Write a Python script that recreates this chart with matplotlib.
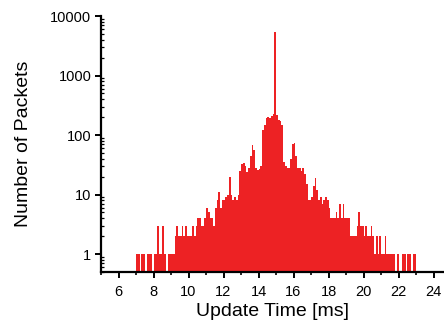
import numpy as np
import matplotlib
matplotlib.use("Agg")
import matplotlib.pyplot as plt
from matplotlib.ticker import LogLocator, NullFormatter, MultipleLocator

plt.rcParams['font.family'] = ['Liberation Sans', 'DejaVu Sans']

# histogram: bin edges start at 7.0 ms, width 0.1 ms
bin_start = 7.0
bin_width = 0.1
counts = [
    1, 1, 0, 1, 1, 0, 1, 1, 1, 0,        # 7.0 - 8.0
    1, 1, 3, 1, 1, 3, 1, 0, 1, 1,        # 8.0 - 9.0
    1, 1, 2, 3, 2, 2, 3, 2, 3, 2,        # 9.0 - 10.0
    2, 2, 3, 2, 3, 4, 4, 3, 3, 4,        # 10.0 - 11.0
    6, 5, 4, 4, 3, 6, 8, 11, 6, 8,       # 11.0 - 12.0
    8, 9, 10, 20, 10, 8, 9, 8, 10, 25,   # 12.0 - 13.0
    32, 34, 30, 24, 28, 45, 68, 55, 28, 26,          # 13.0 - 14.0
    27, 30, 120, 150, 190, 200, 190, 210, 230, 5400, # 14.0 - 15.0
    220, 180, 170, 150, 35, 30, 28, 28, 40, 70,      # 15.0 - 16.0
    73, 45, 28, 28, 25, 28, 22, 15, 8, 8,            # 16.0 - 17.0
    9, 14, 19, 12, 8, 9, 7, 8, 9, 8,     # 17.0 - 18.0
    6, 4, 4, 4, 5, 4, 7, 4, 7, 4,        # 18.0 - 19.0
    4, 4, 2, 2, 2, 2, 3, 5, 3, 3,        # 19.0 - 20.0
    2, 3, 2, 2, 3, 2, 1, 2, 1, 2,        # 20.0 - 21.0
    1, 1, 2, 1, 1, 1, 1, 1, 0, 1,        # 21.0 - 22.0
    0, 0, 1, 1, 0, 1, 1, 0, 1, 1,        # 22.0 - 23.0
]

x_ticks = [6, 8, 10, 12, 14, 16, 18, 20, 22, 24]
y_ticks = [1, 10, 100, 1000, 10000]
y_ticklabels = ['1', '10', '100', '1000', '10000']

counts = np.array(counts, dtype=float)
edges = bin_start + bin_width * np.arange(len(counts) + 1)
base = 0.3
vals = np.where(counts > 0, counts, base)

fig = plt.figure(figsize=(4.44, 3.29), dpi=100)
ax = fig.add_axes([101 / 444, 1 - 272 / 329, 343 / 444, 256 / 329])

ax.stairs(vals, edges, fill=True, baseline=base, color='#ED2224', lw=0)

ax.set_yscale('log')
ax.set_ylim(0.5, 10000)
ax.set_xlim(5, 24.6)

ax.set_xticks(x_ticks)
ax.xaxis.set_minor_locator(MultipleLocator(1))
ax.set_yticks(y_ticks)
ax.set_yticklabels(y_ticklabels)
ax.yaxis.set_minor_locator(LogLocator(base=10, subs=np.arange(2, 10)))
ax.yaxis.set_minor_formatter(NullFormatter())

for s in ['top', 'right']:
    ax.spines[s].set_visible(False)
for s in ['left', 'bottom']:
    ax.spines[s].set_linewidth(1.6)

ax.tick_params(axis='both', which='major', direction='out', length=4,
               width=1.4, labelsize=10.5, pad=3)
ax.tick_params(axis='x', which='major', pad=5)
ax.tick_params(axis='x', which='minor', direction='out', length=2.5, width=1.2)
ax.tick_params(axis='y', which='minor', direction='in', length=2, width=0.9)

ax.set_xlabel('Update Time [ms]', fontsize=14, labelpad=3)
ax.set_ylabel('Number of Packets', fontsize=14, labelpad=13)

fig.savefig('out.png', dpi=100)
